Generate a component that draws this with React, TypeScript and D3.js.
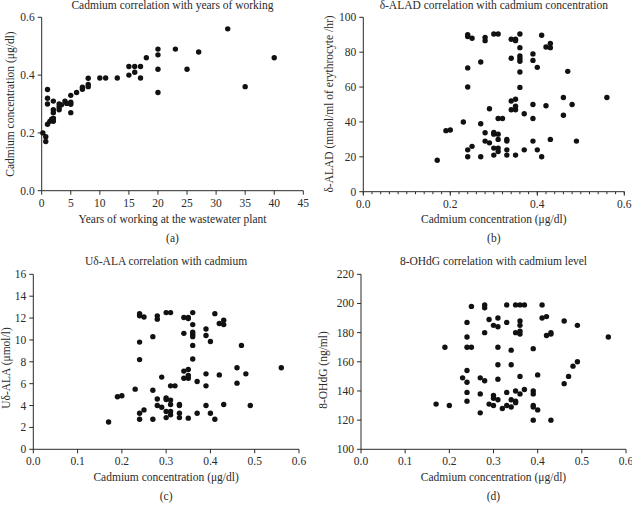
import * as d3 from 'd3';

const W = 632;
const H = 505;

// (a) years of working vs cadmium concentration
const yearsWorked = [
  0.2, 0.7, 0.7, 1, 1, 1, 1, 1.4, 1.7, 2, 2, 2, 2, 2, 2, 3, 3, 3, 3.4, 4, 4.3,
  5, 5, 5, 5, 6, 7, 7, 8, 8, 8, 10, 11, 13, 15, 15, 16, 16, 17, 17, 18,
  20, 20, 20, 20, 23, 25, 27, 32, 35, 40,
];
const cadmiumByYears = [
  0.2, 0.187, 0.17, 0.35, 0.32, 0.3, 0.23, 0.24, 0.247, 0.31, 0.28, 0.27, 0.25, 0.24, 0.25, 0.3, 0.29, 0.28, 0.297, 0.31, 0.302,
  0.33, 0.306, 0.299, 0.27, 0.34, 0.358, 0.351, 0.389, 0.368, 0.36, 0.39, 0.39, 0.39, 0.43, 0.4, 0.43, 0.41, 0.43, 0.39, 0.46,
  0.49, 0.47, 0.42, 0.34, 0.49, 0.42, 0.48, 0.56, 0.36, 0.46,
];

// (b) and (c) cadmium concentration of each worker
const cadmiumLevel = [
  0.17, 0.19, 0.2, 0.23,
  0.24, 0.24, 0.24, 0.24, 0.24, 0.24,
  0.25, 0.25,
  0.27, 0.27, 0.27,
  0.28, 0.28, 0.28, 0.28,
  0.29, 0.29,
  0.3, 0.3, 0.3, 0.3, 0.3,
  0.31, 0.31, 0.31, 0.31, 0.31, 0.31,
  0.32,
  0.33, 0.33, 0.33, 0.33,
  0.34, 0.34, 0.34, 0.34,
  0.35, 0.35, 0.35, 0.35, 0.35, 0.35,
  0.36, 0.36, 0.36, 0.36, 0.36, 0.36, 0.36,
  0.37, 0.37,
  0.39, 0.39, 0.39, 0.39, 0.39,
  0.4, 0.4,
  0.41, 0.41,
  0.42, 0.42,
  0.43, 0.43, 0.43,
  0.46, 0.46, 0.47, 0.48, 0.49, 0.56,
];
const aladValues = [
  18, 35, 35.4, 40,
  90, 89, 71, 60, 24, 20,
  88, 26,
  74.4, 39, 20,
  88.5, 86.6, 33.8, 29,
  47.6, 28,
  90.4, 34, 33, 25, 21,
  90.4, 42, 33, 30, 25, 23,
  42,
  30, 29, 24, 21,
  87.4, 76.5, 52, 47,
  87.4, 86.6, 53, 49, 47, 21,
  90.4, 82.6, 77.8, 76.3, 74.8, 68.6, 59.8,
  44.7, 24,
  79, 75.3, 50, 42, 29,
  71.3, 24,
  89.7, 20,
  83, 49.3,
  85, 82.6, 30,
  54, 43.8, 69, 50, 29, 54,
];
const ualaValues = [
  2.5, 4.8, 4.9, 5.5,
  12.4, 12.2, 9.8, 8.2, 3.3, 2.75,
  12.1, 3.6,
  10.3, 5.4, 2.75,
  12.2, 11.9, 4.6, 4.0,
  6.6, 3.85,
  12.5, 4.7, 4.55, 3.45, 2.9,
  12.5, 5.8, 4.5, 4.1, 3.45, 3.15,
  5.8,
  4.1, 4.0, 3.3, 2.9,
  12.05, 10.6, 7.15, 6.5,
  12.05, 11.95, 7.3, 6.75, 6.5, 2.85,
  12.5, 11.4, 10.7, 10.5, 10.3, 9.5, 8.25,
  6.2, 3.3,
  11.0, 10.4, 6.9, 5.8, 4.0,
  9.85, 3.3,
  12.4, 2.75,
  11.5, 6.8,
  11.8, 11.4, 4.1,
  7.45, 6.05, 9.5, 6.9, 4.0, 7.45,
];

// (d) cadmium vs 8-OHdG
const cadmiumLevelD = [
  0.17, 0.19, 0.2, 0.23,
  0.24, 0.24, 0.24, 0.24, 0.24, 0.24, 0.24,
  0.25, 0.25,
  0.27, 0.27, 0.27,
  0.28, 0.28, 0.28, 0.28,
  0.29, 0.29,
  0.3, 0.3, 0.3, 0.3,
  0.31, 0.31, 0.31, 0.31, 0.31, 0.31,
  0.32,
  0.33, 0.33, 0.33, 0.33,
  0.34, 0.34, 0.34, 0.34,
  0.35, 0.35, 0.35, 0.35, 0.35,
  0.36, 0.36, 0.36, 0.36, 0.36, 0.36, 0.36,
  0.37, 0.37,
  0.39, 0.39, 0.39, 0.39, 0.39, 0.39,
  0.4, 0.4,
  0.41, 0.41,
  0.42, 0.42,
  0.43, 0.43, 0.43,
  0.46, 0.46, 0.47, 0.48, 0.49, 0.49, 0.56,
];
const ohdgValues = [
  131, 170, 130, 149,
  187, 177, 170, 154, 146, 139, 133,
  198, 170,
  149, 138, 125,
  199, 197, 180, 147,
  189, 131,
  185, 137, 135, 130,
  190, 184, 170, 158, 148, 134,
  128,
  199, 187, 139, 130,
  168, 158, 134, 129,
  199, 180, 140, 133, 132,
  199, 188, 185, 181, 179, 150, 138,
  199, 141,
  169, 140, 138, 130, 129, 120,
  151, 127,
  199, 190,
  191, 178,
  180, 179, 120,
  188, 145, 150, 157, 185, 160, 177,
];

const yearTicks = [0, 5, 10, 15, 20, 25, 30, 35, 40, 45];
const cadTicksA = [0, 0.2, 0.4, 0.6];
const cadTicksB = [0, 0.2, 0.4, 0.6];
const cadTicksCD = [0, 0.1, 0.2, 0.3, 0.4, 0.5, 0.6];
const aladTicks = [0, 20, 40, 60, 80, 100];
const ualaTicks = [0, 2, 4, 6, 8, 10, 12, 14, 16];
const ohdgTicks = [100, 120, 140, 160, 180, 200, 220];

const FONT = '"Liberation Serif", "Times New Roman", serif';
const INK = '#2a2a2a';

interface PanelProps {
  xs: number[];
  ys: number[];
  xDomain: [number, number];
  yDomain: [number, number];
  xTicks: number[];
  yTicks: number[];
  xMinor?: number[];
  xFmt: (v: number) => string;
  yFmt: (v: number) => string;
  left: number;
  right: number;
  top: number;
  bottom: number;
  title: string;
  titleY: number;
  xLabel: string;
  xLabelY: number;
  yLabel: string;
  yLabelX: number;
  yLabelY: number;
  tag: string;
  tagY: number;
  tickGap: number;
}

const Panel = (p: PanelProps) => {
  const x = d3.scaleLinear().domain(p.xDomain).range([p.left, p.right]);
  const y = d3.scaleLinear().domain(p.yDomain).range([p.bottom, p.top]);
  const cx = (p.left + p.right) / 2;
  return (
    <g fontFamily={FONT} fontSize={11.5} fill={INK}>
      <text x={cx} y={p.titleY} textAnchor="middle">{p.title}</text>
      <line x1={p.left} x2={p.right} y1={p.bottom} y2={p.bottom} stroke={INK} />
      <line x1={p.left} x2={p.left} y1={p.top} y2={p.bottom} stroke={INK} />
      {(p.xMinor || []).map((t, i) => (
        <line key={'m' + i} x1={x(t)} x2={x(t)} y1={p.bottom} y2={p.bottom + 2.5} stroke={INK} />
      ))}
      {p.xTicks.map((t, i) => (
        <g key={'x' + i}>
          <line x1={x(t)} x2={x(t)} y1={p.bottom} y2={p.bottom + 4} stroke={INK} />
          <text x={x(t)} y={p.bottom + p.tickGap} textAnchor="middle">{p.xFmt(t)}</text>
        </g>
      ))}
      {p.yTicks.map((t, i) => (
        <g key={'y' + i}>
          <line x1={p.left - 4} x2={p.left} y1={y(t)} y2={y(t)} stroke={INK} />
          <text x={p.left - 7} y={y(t)} dy="0.35em" textAnchor="end">{p.yFmt(t)}</text>
        </g>
      ))}
      <text x={cx} y={p.xLabelY} textAnchor="middle">{p.xLabel}</text>
      <text
        transform={`translate(${p.yLabelX},${p.yLabelY}) rotate(-90)`}
        textAnchor="middle"
      >
        {p.yLabel}
      </text>
      <text x={cx} y={p.tagY} textAnchor="middle">{p.tag}</text>
      {p.xs.map((v, i) => (
        <circle key={'p' + i} cx={x(v)} cy={y(p.ys[i])} r={2.7} fill="#111" />
      ))}
    </g>
  );
};

const f1 = d3.format('.1f');
const f0 = d3.format('d');
const minorB = d3.range(0, 0.6001, 0.02);

export default function App() {
  return (
    <svg
      width={W}
      height={H}
      style={{ position: 'absolute', left: 0, top: 0, background: '#fff' }}
    >
      <rect width={W} height={H} fill="#fff" />
      <Panel
        xs={yearsWorked}
        ys={cadmiumByYears}
        xDomain={[0, 45]}
        yDomain={[0, 0.6]}
        xTicks={yearTicks}
        yTicks={cadTicksA}
        xFmt={f0}
        yFmt={f1}
        left={41.7}
        right={303.3}
        top={17.3}
        bottom={190.7}
        title="Cadmium correlation with years of working"
        titleY={9}
        xLabel="Years of working at the wastewater plant"
        xLabelY={223}
        yLabel="Cadmium concentration (μg/dl)"
        yLabelX={14}
        yLabelY={104}
        tag="(a)"
        tagY={242}
        tickGap={16}
      />
      <Panel
        xs={cadmiumLevel}
        ys={aladValues}
        xDomain={[0, 0.6]}
        yDomain={[0, 100]}
        xTicks={cadTicksB}
        yTicks={aladTicks}
        xMinor={minorB}
        xFmt={f1}
        yFmt={f0}
        left={363.3}
        right={624.3}
        top={17.3}
        bottom={191.7}
        title="δ-ALAD correlation with cadmium concentration"
        titleY={9}
        xLabel="Cadmium concentration (μg/dl)"
        xLabelY={223}
        yLabel="δ-ALAD (mmol/ml of erythrocyte /hr)"
        yLabelX={333}
        yLabelY={104}
        tag="(b)"
        tagY={242}
        tickGap={16}
      />
      <Panel
        xs={cadmiumLevel}
        ys={ualaValues}
        xDomain={[0, 0.6]}
        yDomain={[0, 16]}
        xTicks={cadTicksCD}
        yTicks={ualaTicks}
        xFmt={f1}
        yFmt={f0}
        left={33.3}
        right={299}
        top={274.3}
        bottom={449.3}
        title="Uδ-ALA correlation with cadmium"
        titleY={265}
        xLabel="Cadmium concentration (μg/dl)"
        xLabelY={481}
        yLabel="Uδ-ALA (μmol/l)"
        yLabelX={10}
        yLabelY={368}
        tag="(c)"
        tagY={500}
        tickGap={16}
      />
      <Panel
        xs={cadmiumLevelD}
        ys={ohdgValues}
        xDomain={[0, 0.6]}
        yDomain={[100, 220]}
        xTicks={cadTicksCD}
        yTicks={ohdgTicks}
        xFmt={f1}
        yFmt={f0}
        left={361}
        right={626}
        top={274.3}
        bottom={449.3}
        title="8-OHdG correlation with cadmium level"
        titleY={265}
        xLabel="Cadmium concentration (μg/dl)"
        xLabelY={481}
        yLabel="8-OHdG (ng/ml)"
        yLabelX={327}
        yLabelY={370}
        tag="(d)"
        tagY={500}
        tickGap={16}
      />
    </svg>
  );
}
